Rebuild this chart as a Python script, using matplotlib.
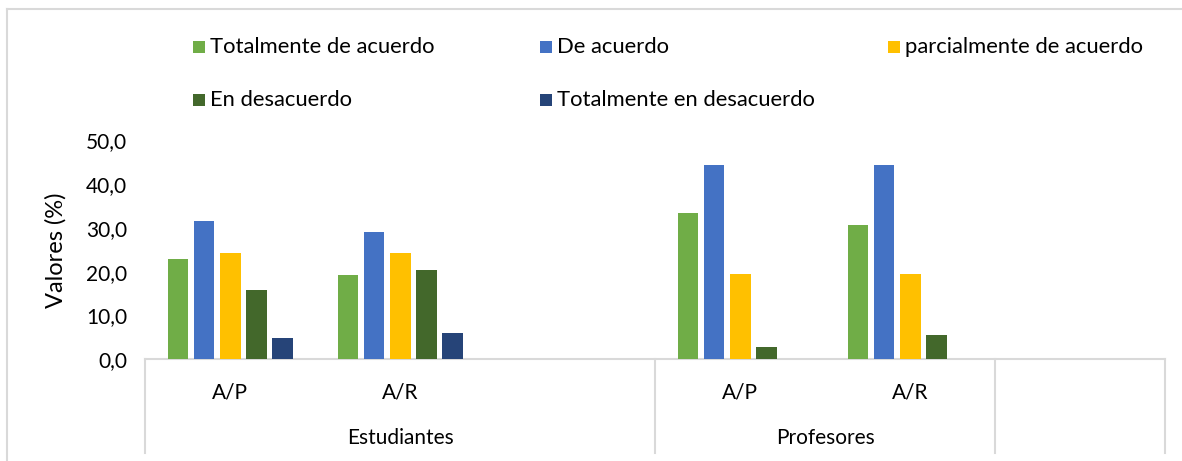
import matplotlib
matplotlib.use("Agg")
import matplotlib.pyplot as plt
import matplotlib.transforms as mtransforms
from matplotlib.patches import Rectangle
from matplotlib.lines import Line2D
import numpy as np

plt.rcParams['font.family'] = ['Lato', 'DejaVu Sans']

# ---------------- data ----------------
categories = ["A/P", "A/R", "", "A/P", "A/R", ""]
groups = ["Estudiantes", "Profesores", ""]
group_spans = [(0, 3), (3, 5), (5, 6)]   # category index ranges for each outer label
series_names = ["Totalmente de acuerdo", "De acuerdo", "parcialmente de acuerdo",
                "En desacuerdo", "Totalmente en desacuerdo"]
totalmente_de_acuerdo = [23.0, 19.3, np.nan, 33.3, 30.6, np.nan]
de_acuerdo = [31.6, 29.1, np.nan, 44.4, 44.4, np.nan]
parcialmente = [24.2, 24.2, np.nan, 19.4, 19.4, np.nan]
en_desacuerdo = [15.8, 20.5, np.nan, 2.8, 5.6, np.nan]
totalmente_en_desacuerdo = [4.8, 6.0, np.nan, 0.0, 0.0, np.nan]
series_values = [totalmente_de_acuerdo, de_acuerdo, parcialmente,
                 en_desacuerdo, totalmente_en_desacuerdo]
colors = ["#70AD47", "#4472C4", "#FFC000", "#43682B", "#264478"]
yticks = [0, 10, 20, 30, 40, 50]
ytick_labels = ["0,0", "10,0", "20,0", "30,0", "40,0", "50,0"]

# ---------------- figure ----------------
W, H = 1182, 461
fig = plt.figure(figsize=(W / 100, H / 100), dpi=100)
fig.patch.set_facecolor("white")

def fx(px):
    return px / W

def fy(py):
    return 1 - py / H

ax_left, ax_right, ax_top, ax_bottom = 145.3, 1165.3, 140.3, 359.3
ax = fig.add_axes([fx(ax_left), fy(ax_bottom), fx(ax_right - ax_left),
                   (ax_bottom - ax_top) / H])

x = np.arange(len(categories))
bw = 0.122
step = 0.154
for i, (vals, col) in enumerate(zip(series_values, colors)):
    v = np.array(vals, dtype=float)
    mask = ~np.isnan(v) & (v > 0)
    ax.bar(x[mask] + (i - 2) * step, v[mask], width=bw, color=col,
           edgecolor="none", zorder=3)

ax.set_xlim(-0.5, len(categories) - 0.5)
ax.set_ylim(0, 50)
ax.set_yticks(yticks)
ax.set_yticklabels(ytick_labels, fontsize=15, color="#000000")
ax.tick_params(axis="y", length=0, pad=13)
ax.set_xticks([])
for s in ["top", "right", "left"]:
    ax.spines[s].set_visible(False)
ax.spines["bottom"].set_color("#D9D9D9")
ax.spines["bottom"].set_linewidth(1.5)
ax.set_ylabel("Valores (%)", fontsize=17, labelpad=14, color="#000000")

# multi-level category axis
trans = mtransforms.blended_transform_factory(ax.transData, ax.transAxes)
ax_h = ax_bottom - ax_top
bottom_frac = -(453 - ax_bottom) / ax_h
boundaries = sorted(set([s for s, e in group_spans] + [e for s, e in group_spans]))
for b in boundaries:
    ax.add_line(Line2D([b - 0.5, b - 0.5], [0, bottom_frac], transform=trans,
                       color="#D9D9D9", lw=1.5, clip_on=False))
cat_y = -(392 - ax_bottom) / ax_h
grp_y = -(437.5 - ax_bottom) / ax_h
for xi, lab in zip(x, categories):
    ax.text(xi, cat_y, lab, transform=trans, ha="center", va="center",
            fontsize=15, color="#000000")
for (s, e), g in zip(group_spans, groups):
    ax.text((s + e - 1) / 2, grp_y, g, transform=trans, ha="center", va="center",
            fontsize=15, color="#000000")

# legend (manual, Excel-like grid)
leg_cols_x = [193, 540, 888]
leg_rows_y = [47, 100]
sq = 12
for k, (name, col) in enumerate(zip(series_names, colors)):
    r, c = divmod(k, 3)
    px, py = leg_cols_x[c], leg_rows_y[r]
    fig.add_artist(Rectangle((fx(px), fy(py + sq / 2)), fx(sq), sq / H,
                             transform=fig.transFigure, facecolor=col,
                             edgecolor="none"))
    fig.text(fx(px + sq + 5), fy(py), name, ha="left", va="center",
             fontsize=15.8, color="#000000")

# outer chart border (cropped)
fig.add_artist(Line2D([fx(7), fx(7)], [fy(9), 0], transform=fig.transFigure,
                      color="#D9D9D9", lw=1.5))
fig.add_artist(Line2D([fx(7), 1], [fy(9), fy(9)], transform=fig.transFigure,
                      color="#D9D9D9", lw=1.5))

fig.savefig("out.png", dpi=100, facecolor="white")
